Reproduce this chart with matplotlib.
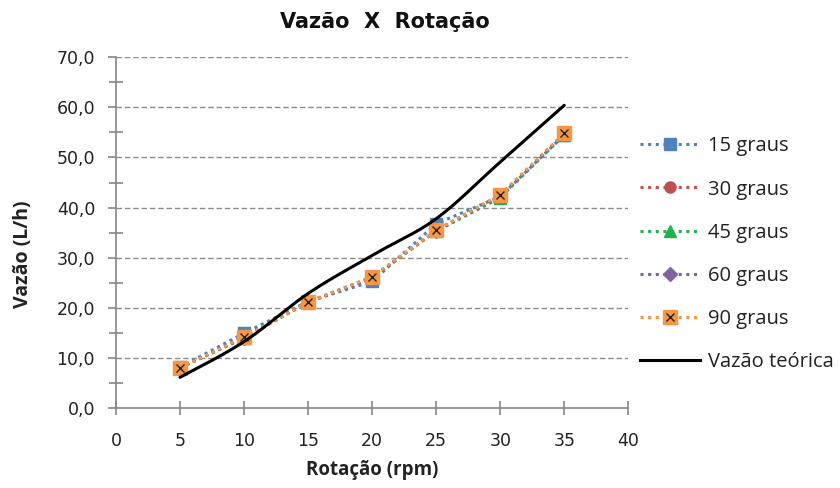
import numpy as np
import matplotlib
matplotlib.use("Agg")
import matplotlib.pyplot as plt
from matplotlib.lines import Line2D
from matplotlib.ticker import MultipleLocator, FuncFormatter
from matplotlib.legend_handler import HandlerTuple

rotacao = [5, 10, 15, 20, 25, 30, 35]
vazao_15 = [8.2, 15.0, 21.3, 25.3, 36.8, 42.2, 54.5]
vazao_30 = [8.1, 14.2, 21.2, 26.0, 35.5, 42.5, 54.7]
vazao_45 = [8.1, 14.0, 21.2, 26.2, 35.3, 42.0, 54.5]
vazao_60 = [8.1, 14.1, 21.2, 26.1, 35.4, 42.4, 54.6]
vazao_90 = [8.1, 14.2, 21.2, 26.2, 35.5, 42.6, 54.8]
vazao_teorica = [6.2, 13.3, 22.9, 30.5, 37.8, 49.1, 60.4]

series_labels = ["15 graus", "30 graus", "45 graus", "60 graus", "90 graus"]
theory_label = "Vazão teórica"
title = "Vazão  X  Rotação"
xlabel = "Rotação (rpm)"
ylabel = "Vazão (L/h)"


def smooth_curve(x, y, steps=30):
    """Catmull-Rom style smoothing, as used by spreadsheet 'smoothed line' charts."""
    x = np.asarray(x, float)
    y = np.asarray(y, float)
    px = np.concatenate([[x[0]], x, [x[-1]]])
    py = np.concatenate([[y[0]], y, [y[-1]]])
    xs, ys = [], []
    for i in range(1, len(px) - 2):
        p0 = np.array([px[i - 1], py[i - 1]])
        p1 = np.array([px[i], py[i]])
        p2 = np.array([px[i + 1], py[i + 1]])
        p3 = np.array([px[i + 2], py[i + 2]])
        c1 = p1 + (p2 - p0) / 6.0
        c2 = p2 - (p3 - p1) / 6.0
        t = np.linspace(0, 1, steps)[:, None]
        b = ((1 - t) ** 3) * p1 + 3 * ((1 - t) ** 2) * t * c1 + 3 * (1 - t) * t ** 2 * c2 + t ** 3 * p2
        xs.append(b[:, 0])
        ys.append(b[:, 1])
    return np.concatenate(xs), np.concatenate(ys)


fig = plt.figure(figsize=(8.4, 4.88), dpi=100)
ax = fig.add_axes([0.138, 0.163, 0.610, 0.720])

axis_gray = "#868686"
ax.set_xlim(0, 40)
ax.set_ylim(0, 70)
ax.xaxis.set_major_locator(MultipleLocator(5))
ax.yaxis.set_major_locator(MultipleLocator(10))
ax.yaxis.set_minor_locator(MultipleLocator(5))
ax.yaxis.set_major_formatter(FuncFormatter(lambda v, p: f"{v:.1f}".replace(".", ",")))

for s in ["top", "right"]:
    ax.spines[s].set_visible(False)
for s in ["left", "bottom"]:
    ax.spines[s].set_color(axis_gray)
    ax.spines[s].set_linewidth(1.2)

tick_font = "DejaVu Sans"
ax.tick_params(axis="x", which="major", direction="inout", length=10, width=1.2,
               color=axis_gray, labelsize=12.5, pad=12, labelcolor="#222222")
ax.tick_params(axis="y", which="major", direction="out", length=6, width=1.2,
               color=axis_gray, labelsize=12.5, pad=9, labelcolor="#222222")
ax.tick_params(axis="y", which="minor", direction="inout", length=10, width=1.2,
               color=axis_gray)
for lab in ax.get_xticklabels() + ax.get_yticklabels():
    lab.set_fontfamily(tick_font)

# horizontal dashed grid
for yv in range(10, 71, 10):
    ax.axhline(yv, color="#8c8c8c", lw=1.0, ls=(0, (4, 2)), zorder=0)

styles = [
    dict(color="#4F81BD", marker="s", ms=8),
    dict(color="#C0504D", marker="o", ms=8),
    dict(color="#22B14C", marker="^", ms=9),
    dict(color="#8064A2", marker="D", ms=7),
    dict(color="#F79646", marker="s", ms=10),
]
data = [vazao_15, vazao_30, vazao_45, vazao_60, vazao_90]

handles = []
for vals, st, lab in zip(data, styles, series_labels):
    ax.plot(rotacao, vals, ls=(0, (1, 1.3)), lw=2.2, color=st["color"],
            marker=st["marker"], ms=st["ms"], mfc=st["color"],
            mec=st["color"], zorder=3)
    h = Line2D([], [], ls=(0, (1, 1.5)), lw=2.2, color=st["color"],
               marker=st["marker"], ms=st["ms"], mfc=st["color"], mec=st["color"])
    handles.append(h)

# black cross detail on the 90 graus markers
ax.plot(rotacao, vazao_90, ls="none", marker="x", ms=6, mew=1.0, color="#222222", zorder=4)
cross = Line2D([], [], ls="none", marker="x", ms=6, mew=1.0, color="#222222")
handles[-1] = (handles[-1], cross)

sx, sy = smooth_curve(rotacao, vazao_teorica)
ax.plot(sx, sy, color="black", lw=2.2, solid_capstyle="round", zorder=5)
handles.append(Line2D([], [], color="black", lw=2.2))

leg = fig.legend(handles, series_labels + [theory_label],
                 loc="center left", bbox_to_anchor=(0.762, 0.479),
                 frameon=False, handlelength=3.0, handletextpad=0.35,
                 labelspacing=1.15, borderaxespad=0, borderpad=0,
                 prop={"family": "Open Sans", "size": 14.5},
                 handler_map={tuple: HandlerTuple(ndivide=1, pad=0)})
for t in leg.get_texts():
    t.set_color("#222222")

fig.text(0.458, 0.955, title, ha="center", va="center", fontsize=15,
         fontweight="bold", family="DejaVu Sans", color="#111111")
fig.text(0.443, 0.037, xlabel, ha="center", va="center", fontsize=13.5,
         fontweight="bold", family="Open Sans", color="#222222")
fig.text(0.027, 0.478, ylabel, ha="center", va="center", rotation=90,
         fontsize=14, fontweight="bold", family="Open Sans", color="#222222")

fig.savefig("out.png", dpi=100)
